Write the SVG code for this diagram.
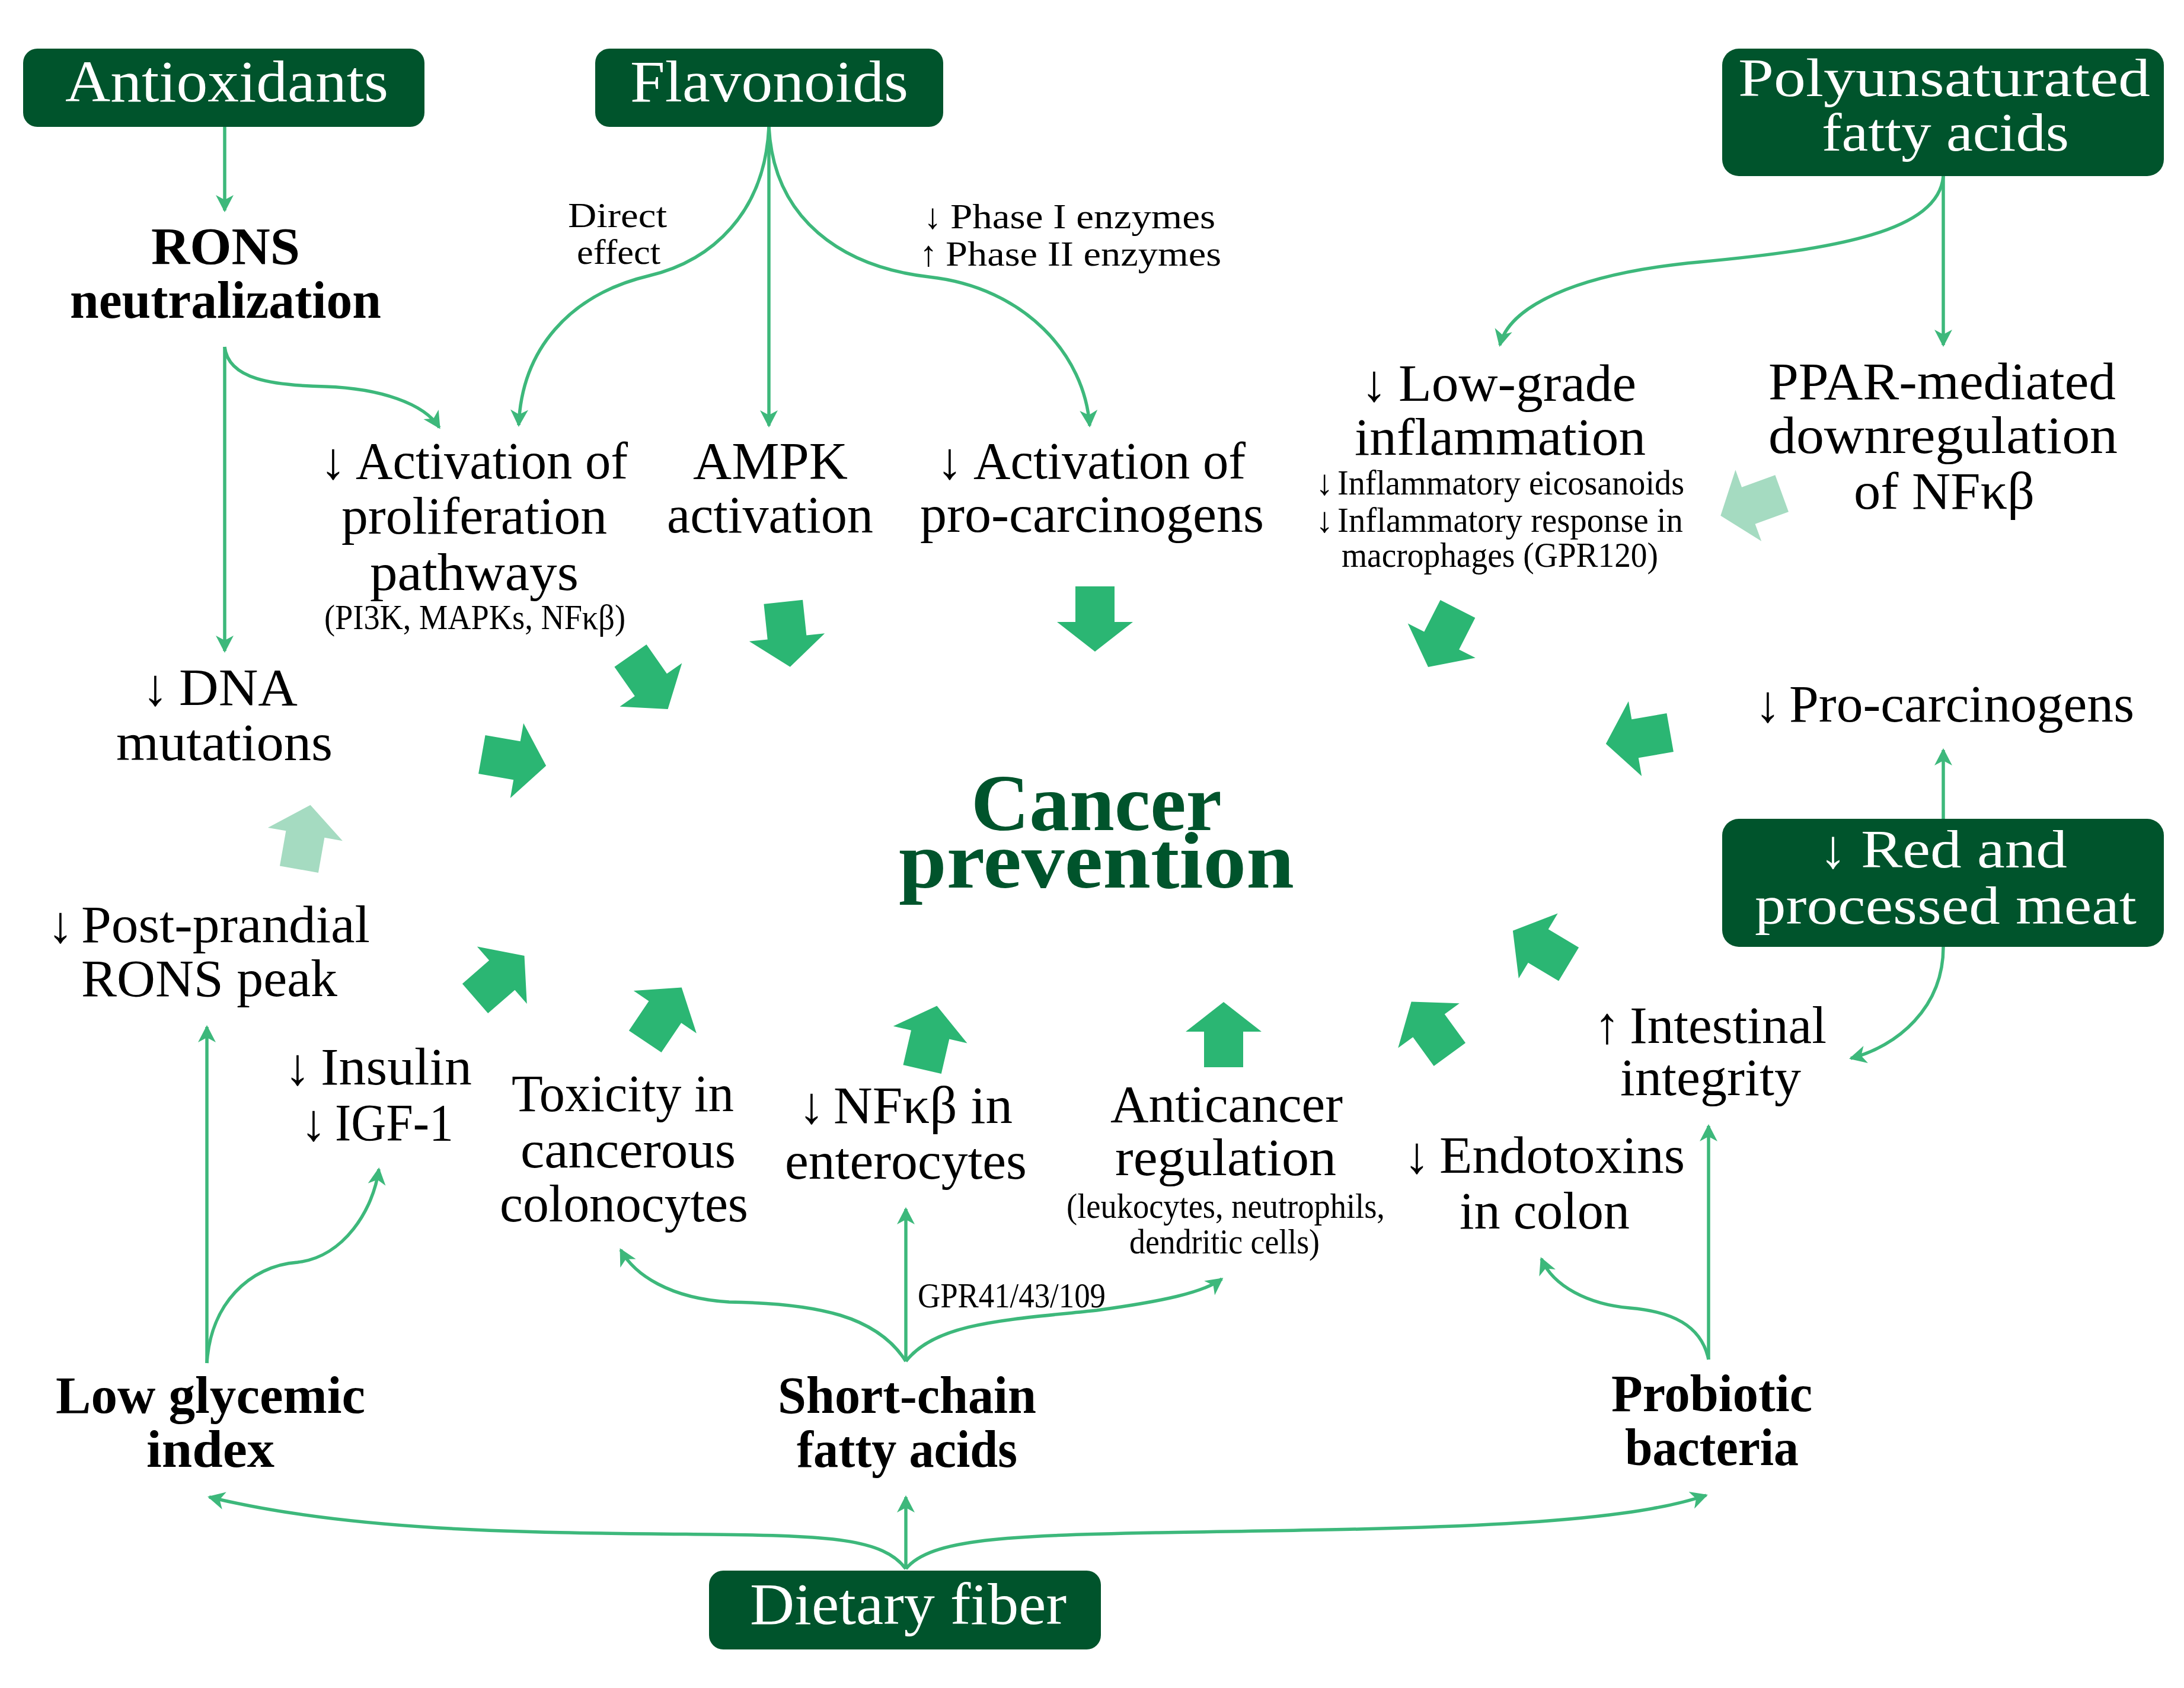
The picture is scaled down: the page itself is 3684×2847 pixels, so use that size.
<svg xmlns="http://www.w3.org/2000/svg" xmlns:xlink="http://www.w3.org/1999/xlink" width="3684" height="2847" viewBox="0 0 3684 2847">
<style>
.box{fill:#00542C}
.bt{font-family:"Liberation Serif",serif;font-size:100px;fill:#ffffff}
.bt2{font-family:"Liberation Serif",serif;font-size:92px;fill:#ffffff}
.m{font-family:"Liberation Serif",serif;font-size:88px;fill:#000000}
.b{font-family:"Liberation Serif",serif;font-size:88px;font-weight:bold;fill:#000000}
.s{font-family:"Liberation Serif",serif;font-size:60px;fill:#000000}
.cp{font-family:"Liberation Serif",serif;font-size:136px;font-weight:bold;fill:#00542C}
.ar{text-anchor:middle}
.ln{fill:none;stroke:#3DB87B;stroke-width:5.5;marker-end:url(#ah)}
.ga{fill:#2BB673}
.pa{fill:#A5DBC1}
</style>
<defs>
<marker id="ah" markerUnits="userSpaceOnUse" orient="auto" refX="0" refY="0" markerWidth="60" markerHeight="60" overflow="visible">
<path d="M3,0 L-26,-15 L-18,0 L-26,15 Z" fill="#3DB87B"/>
</marker>
<path id="blk" d="M0,-55 L64,-5 L33,-5 L33,55 L-33,55 L-33,-5 L-64,-5 Z"/>
</defs>
<rect width="3684" height="2847" fill="#ffffff"/>

<g id="connectors">
<path class="ln" d="M379,214 L379,355"/>
<path class="ln" d="M379,585 L379,1098"/>
<path class="ln" d="M379,585 C385,640 460,650 549,652 C640,655 715,680 741,721"/>
<path class="ln" d="M1297,214 C1290,360 1200,440 1095,465 C960,497 880,590 875,717"/>
<path class="ln" d="M1297,214 L1297,718"/>
<path class="ln" d="M1297,214 C1305,370 1420,450 1567,467 C1730,485 1830,600 1838,718"/>
<path class="ln" d="M3278,297 C3270,390 3100,420 2866,442 C2650,462 2545,520 2530,582"/>
<path class="ln" d="M3278,297 L3278,582"/>
<path class="ln" d="M3278,1381 L3278,1265"/>
<path class="ln" d="M3278,1597 C3278,1700 3200,1765 3122,1785"/>
<path class="ln" d="M349,2299 L349,1732"/>
<path class="ln" d="M349,2299 C355,2200 420,2135 502,2129 C580,2120 630,2040 639,1972"/>
<path class="ln" d="M1528,2296 L1528,2039"/>
<path class="ln" d="M1528,2296 C1480,2220 1380,2198 1230,2196 C1130,2190 1070,2150 1047,2108"/>
<path class="ln" d="M1528,2296 C1580,2230 1700,2226 1850,2210 C1960,2195 2030,2180 2061,2157"/>
<path class="ln" d="M1528,2646 C1490,2595 1400,2590 1200,2588 C900,2585 600,2585 353,2525"/>
<path class="ln" d="M1528,2646 C1570,2595 1700,2590 1950,2585 C2400,2578 2720,2575 2878,2522"/>
<path class="ln" d="M1528,2646 L1528,2525"/>
<path class="ln" d="M2882,2293 C2870,2235 2820,2212 2749,2206 C2680,2200 2620,2170 2600,2123"/>
<path class="ln" d="M2882,2293 L2882,1899"/>
</g>

<g id="block-arrows">
<use xlink:href="#blk" class="pa" transform="translate(514,1412) rotate(10)"/>
<use xlink:href="#blk" class="ga" transform="translate(1095,1151) rotate(145)"/>
<use xlink:href="#blk" class="ga" transform="translate(867,1282) rotate(100)"/>
<use xlink:href="#blk" class="ga" transform="translate(843,1648) rotate(49)"/>
<use xlink:href="#blk" class="ga" transform="translate(1119,1711) rotate(34)"/>
<use xlink:href="#blk" class="ga" transform="translate(1327,1070) rotate(174)"/>
<use xlink:href="#blk" class="ga" transform="translate(1847,1044) rotate(180)"/>
<use xlink:href="#blk" class="ga" transform="translate(2434,1076) rotate(207)"/>
<use xlink:href="#blk" class="ga" transform="translate(2763,1245) rotate(260)"/>
<use xlink:href="#blk" class="pa" transform="translate(2954,851) rotate(250)"/>
<use xlink:href="#blk" class="ga" transform="translate(1568,1750) rotate(13)"/>
<use xlink:href="#blk" class="ga" transform="translate(2064,1745) rotate(0)"/>
<use xlink:href="#blk" class="ga" transform="translate(2413,1734) rotate(324)"/>
<use xlink:href="#blk" class="ga" transform="translate(2599,1598) rotate(301)"/>
</g>

<g id="antioxidants">
<rect class="box" x="39" y="82" width="677" height="132" rx="24"/>
<text class="bt" x="110" y="171" textLength="545" lengthAdjust="spacingAndGlyphs">Antioxidants</text>
</g>
<g id="flavonoids">
<rect class="box" x="1004" y="82" width="587" height="132" rx="24"/>
<text class="bt" x="1063" y="171" textLength="469" lengthAdjust="spacingAndGlyphs">Flavonoids</text>
</g>
<g id="pufa">
<rect class="box" x="2905" y="82" width="745" height="215" rx="28"/>
<text class="bt2" x="2932" y="162" textLength="695" lengthAdjust="spacingAndGlyphs">Polyunsaturated</text>
<text class="bt2" x="3073" y="254" textLength="417" lengthAdjust="spacingAndGlyphs">fatty acids</text>
</g>
<g id="red-meat">
<rect class="box" x="2905" y="1381" width="745" height="216" rx="28"/>
<text class="bt2 ar" x="3092" y="1463">↓</text>
<text class="bt2" x="3139" y="1463" textLength="348" lengthAdjust="spacingAndGlyphs">Red and</text>
<text class="bt2" x="2960" y="1558" textLength="644" lengthAdjust="spacingAndGlyphs">processed meat</text>
</g>
<g id="dietary-fiber">
<rect class="box" x="1196" y="2649" width="661" height="133" rx="24"/>
<text class="bt" x="1265" y="2739" textLength="534" lengthAdjust="spacingAndGlyphs">Dietary fiber</text>
</g>

<g id="rons">
<text class="b" x="255" y="445" textLength="251" lengthAdjust="spacingAndGlyphs">RONS</text>
<text class="b" x="118" y="536" textLength="525" lengthAdjust="spacingAndGlyphs">neutralization</text>
</g>
<g id="direct-effect">
<text class="s" x="958" y="383" textLength="167" lengthAdjust="spacingAndGlyphs">Direct</text>
<text class="s" x="973" y="445" textLength="141" lengthAdjust="spacingAndGlyphs">effect</text>
</g>
<g id="phase-enzymes">
<text class="s ar" x="1573" y="385">↓</text>
<text class="s" x="1603" y="385" textLength="447" lengthAdjust="spacingAndGlyphs">Phase I enzymes</text>
<text class="s ar" x="1566" y="448">↑</text>
<text class="s" x="1595" y="448" textLength="465" lengthAdjust="spacingAndGlyphs">Phase II enzymes</text>
</g>
<g id="proliferation">
<text class="m ar" x="562" y="807">↓</text>
<text class="m" x="600" y="807" textLength="459" lengthAdjust="spacingAndGlyphs">Activation of</text>
<text class="m" x="576" y="900" textLength="448" lengthAdjust="spacingAndGlyphs">proliferation</text>
<text class="m" x="624" y="995" textLength="352" lengthAdjust="spacingAndGlyphs">pathways</text>
<text class="s" x="547" y="1061" textLength="508" lengthAdjust="spacingAndGlyphs">(PI3K, MAPKs, NFκβ)</text>
</g>
<g id="ampk">
<text class="m" x="1169" y="807" textLength="261" lengthAdjust="spacingAndGlyphs">AMPK</text>
<text class="m" x="1125" y="898" textLength="348" lengthAdjust="spacingAndGlyphs">activation</text>
</g>
<g id="pro-carcinogens-activation">
<text class="m ar" x="1602" y="807">↓</text>
<text class="m" x="1642" y="807" textLength="459" lengthAdjust="spacingAndGlyphs">Activation of</text>
<text class="m" x="1552" y="897" textLength="580" lengthAdjust="spacingAndGlyphs">pro-carcinogens</text>
</g>
<g id="low-grade-inflammation">
<text class="m ar" x="2318" y="676">↓</text>
<text class="m" x="2359" y="676" textLength="401" lengthAdjust="spacingAndGlyphs">Low-grade</text>
<text class="m" x="2285" y="767" textLength="491" lengthAdjust="spacingAndGlyphs">inflammation</text>
<text class="s ar" x="2234" y="834">↓</text>
<text class="s" x="2256" y="834" textLength="585" lengthAdjust="spacingAndGlyphs">Inflammatory eicosanoids</text>
<text class="s ar" x="2234" y="897">↓</text>
<text class="s" x="2256" y="897" textLength="583" lengthAdjust="spacingAndGlyphs">Inflammatory response in</text>
<text class="s" x="2263" y="956" textLength="534" lengthAdjust="spacingAndGlyphs">macrophages (GPR120)</text>
</g>
<g id="ppar">
<text class="m" x="2983" y="673" textLength="586" lengthAdjust="spacingAndGlyphs">PPAR-mediated</text>
<text class="m" x="2983" y="764" textLength="589" lengthAdjust="spacingAndGlyphs">downregulation</text>
<text class="m" x="3127" y="858" textLength="305" lengthAdjust="spacingAndGlyphs">of NFκβ</text>
</g>
<g id="dna-mutations">
<text class="m ar" x="262" y="1189">↓</text>
<text class="m" x="302" y="1189" textLength="200" lengthAdjust="spacingAndGlyphs">DNA</text>
<text class="m" x="196" y="1282" textLength="365" lengthAdjust="spacingAndGlyphs">mutations</text>
</g>
<g id="pro-carcinogens">
<text class="m ar" x="2982" y="1217">↓</text>
<text class="m" x="3018" y="1217" textLength="582" lengthAdjust="spacingAndGlyphs">Pro-carcinogens</text>
</g>
<g id="cancer-prevention">
<text class="cp" x="1638" y="1400" textLength="423" lengthAdjust="spacingAndGlyphs">Cancer</text>
<text class="cp" x="1516" y="1497" textLength="667" lengthAdjust="spacingAndGlyphs">prevention</text>
</g>
<g id="post-prandial">
<text class="m ar" x="102" y="1589">↓</text>
<text class="m" x="137" y="1589" textLength="487" lengthAdjust="spacingAndGlyphs">Post-prandial</text>
<text class="m" x="137" y="1680" textLength="432" lengthAdjust="spacingAndGlyphs">RONS peak</text>
</g>
<g id="insulin">
<text class="m ar" x="502" y="1829">↓</text>
<text class="m" x="541" y="1829" textLength="255" lengthAdjust="spacingAndGlyphs">Insulin</text>
<text class="m ar" x="529" y="1923">↓</text>
<text class="m" x="565" y="1923" textLength="200" lengthAdjust="spacingAndGlyphs">IGF-1</text>
</g>
<g id="toxicity">
<text class="m" x="863" y="1874" textLength="375" lengthAdjust="spacingAndGlyphs">Toxicity in</text>
<text class="m" x="878" y="1969" textLength="363" lengthAdjust="spacingAndGlyphs">cancerous</text>
<text class="m" x="843" y="2060" textLength="419" lengthAdjust="spacingAndGlyphs">colonocytes</text>
</g>
<g id="nfkb-enterocytes">
<text class="m ar" x="1369" y="1894">↓</text>
<text class="m" x="1406" y="1894" textLength="302" lengthAdjust="spacingAndGlyphs">NFκβ in</text>
<text class="m" x="1324" y="1988" textLength="408" lengthAdjust="spacingAndGlyphs">enterocytes</text>
</g>
<g id="anticancer">
<text class="m" x="1873" y="1892" textLength="392" lengthAdjust="spacingAndGlyphs">Anticancer</text>
<text class="m" x="1881" y="1982" textLength="373" lengthAdjust="spacingAndGlyphs">regulation</text>
<text class="s" x="1799" y="2054" textLength="537" lengthAdjust="spacingAndGlyphs">(leukocytes, neutrophils,</text>
<text class="s" x="1905" y="2114" textLength="321" lengthAdjust="spacingAndGlyphs">dendritic cells)</text>
</g>
<g id="endotoxins">
<text class="m ar" x="2390" y="1978">↓</text>
<text class="m" x="2428" y="1978" textLength="414" lengthAdjust="spacingAndGlyphs">Endotoxins</text>
<text class="m" x="2462" y="2072" textLength="287" lengthAdjust="spacingAndGlyphs">in colon</text>
</g>
<g id="intestinal">
<text class="m ar" x="2711" y="1759">↑</text>
<text class="m" x="2749" y="1759" textLength="332" lengthAdjust="spacingAndGlyphs">Intestinal</text>
<text class="m" x="2733" y="1847" textLength="305" lengthAdjust="spacingAndGlyphs">integrity</text>
</g>
<g id="gpr-label">
<text class="s" x="1548" y="2205" textLength="317" lengthAdjust="spacingAndGlyphs">GPR41/43/109</text>
</g>
<g id="low-glycemic">
<text class="b" x="94" y="2383" textLength="522" lengthAdjust="spacingAndGlyphs">Low glycemic</text>
<text class="b" x="247" y="2474" textLength="216" lengthAdjust="spacingAndGlyphs">index</text>
</g>
<g id="scfa">
<text class="b" x="1312" y="2383" textLength="436" lengthAdjust="spacingAndGlyphs">Short-chain</text>
<text class="b" x="1344" y="2474" textLength="372" lengthAdjust="spacingAndGlyphs">fatty acids</text>
</g>
<g id="probiotic">
<text class="b" x="2718" y="2380" textLength="339" lengthAdjust="spacingAndGlyphs">Probiotic</text>
<text class="b" x="2741" y="2471" textLength="293" lengthAdjust="spacingAndGlyphs">bacteria</text>
</g>
</svg>
